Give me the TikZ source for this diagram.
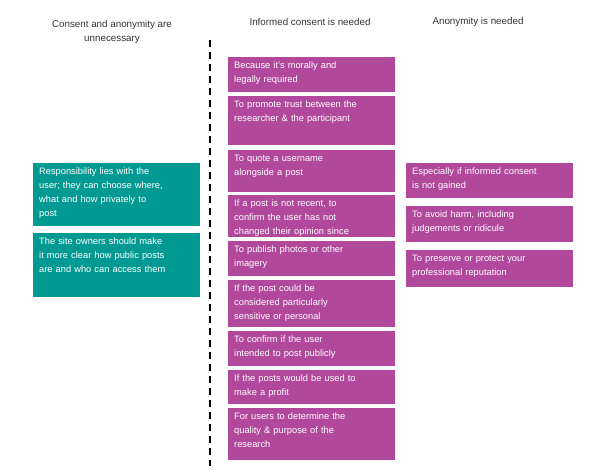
\documentclass[tikz,border=0pt]{standalone}
\usepackage{fontspec}
\setmainfont{Liberation Sans}
\begin{document}
\begin{tikzpicture}[x=1pt,y=-1pt,
  box/.style={fill=#1,text=white,anchor=north west,inner sep=0pt,font=\fontsize{9.3}{14}\selectfont},
  hd/.style={text=black!80,font=\fontsize{9.8}{14}\selectfont,align=center}]
\definecolor{mag}{HTML}{B1489C}
\definecolor{tea}{HTML}{009A92}
\useasboundingbox (0,0) rectangle (600,470);
\node[hd] (h1) at (112,32) {Consent and anonymity are\\unnecessary};
\node[hd] (h2) at (310,22) {Informed consent is needed};
\node[hd] (h3) at (478,22) {Anonymity is needed};
\coordinate (dt) at (210,40); \coordinate (db) at (210,466);
\draw[line width=2pt,dash pattern=on 7pt off 5pt] (dt) -- (db);
\newcommand\bx[7]{\fill[#2] (#3,#4) rectangle (#5,#6);
  \node[text=white,anchor=north west,align=left,text width=#5-#3-10,inner sep=0pt,font=\fontsize{9.3}{14}\selectfont] (#1) at (#3+6,#4+5) {#7};}
\bx{m1}{mag}{228}{57}{395}{92}{Because it's morally and\\legally required}
\bx{m2}{mag}{228}{96}{395}{145}{To promote trust between the\\researcher \& the participant}
\bx{m3}{mag}{228}{150}{395}{192}{To quote a username\\alongside a post}
\bx{m4}{mag}{228}{195}{395}{237}{If a post is not recent, to\\confirm the user has not\\changed their opinion since}
\bx{m5}{mag}{228}{241}{395}{276}{To publish photos or other\\imagery}
\bx{m6}{mag}{228}{280}{395}{327}{If the post could be\\considered particularly\\sensitive or personal}
\bx{m7}{mag}{228}{331}{395}{366}{To confirm if the user\\intended to post publicly}
\bx{m8}{mag}{228}{370}{395}{404}{If the posts would be used to\\make a profit}
\bx{m9}{mag}{228}{408}{395}{460}{For users to determine the\\quality \& purpose of the\\research}
\bx{l1}{tea}{33}{163}{200}{226}{Responsibility lies with the\\user; they can choose where,\\what and how privately to\\post}
\bx{l2}{tea}{33}{233}{200}{297}{The site owners should make\\it more clear how public posts\\are and who can access them}
\bx{r1}{mag}{406}{163}{573}{198}{Especially if informed consent\\is not gained}
\bx{r2}{mag}{406}{206}{573}{242}{To avoid harm, including\\judgements or ridicule}
\bx{r3}{mag}{406}{250}{573}{287}{To preserve or protect your\\professional reputation}
\end{tikzpicture}
\end{document}
